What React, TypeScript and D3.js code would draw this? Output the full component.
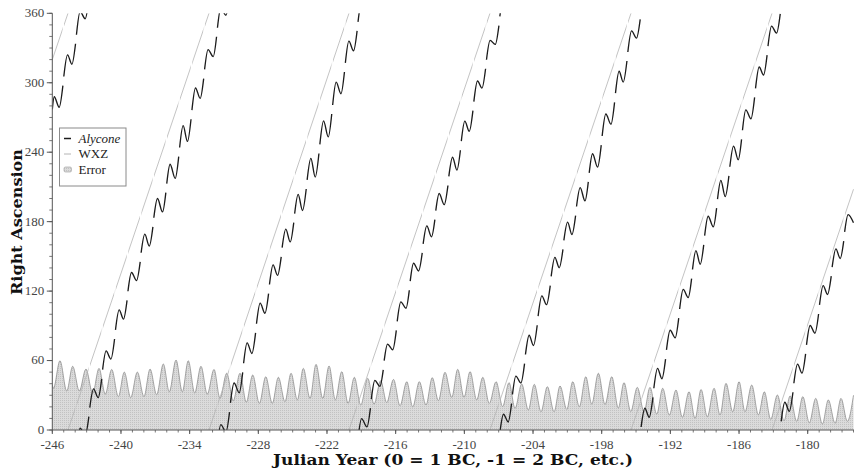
import React from 'react';
import * as d3 from 'd3';

const WIDTH = 854;
const HEIGHT = 468;

const xTickYears = [-246, -240, -234, -228, -222, -216, -210, -204, -198, -192, -186, -180];
const yTickValues = [0, 60, 120, 180, 240, 300, 360];

// Error (peaks / troughs)
const errorYears = [
  -246.0, -245.9, -245.33, -244.74, -244.22, -243.64, -243.06, -242.47, -241.92, -241.37, -240.81, -240.23,
  -239.71, -239.15, -238.57, -237.99, -237.46, -236.88, -236.3, -235.78, -235.19, -234.64, -234.12, -233.56,
  -233.01, -232.46, -231.87, -231.35, -230.76, -230.19, -229.6, -229.05, -228.49, -227.91, -227.35, -226.78,
  -226.25, -225.67, -225.14, -224.59, -224.07, -223.48, -222.96, -222.37, -221.82, -221.27, -220.71, -220.16,
  -219.61, -219.05, -218.44, -217.89, -217.31, -216.78, -216.19, -215.62, -215.03, -214.51, -213.93, -213.35,
  -212.8, -212.27, -211.69, -211.1, -210.58, -210.03, -209.5, -208.92, -208.39, -207.82, -207.23, -206.65,
  -206.1, -205.57, -204.99, -204.41, -203.89, -203.3, -202.75, -202.16, -201.64, -201.05, -200.53, -199.95,
  -199.39, -198.87, -198.29, -197.71, -197.12, -196.55, -196.05, -195.46, -194.89, -194.3, -193.78, -193.19,
  -192.67, -192.09, -191.51, -190.95, -190.37, -189.84, -189.32, -188.77, -188.18, -187.66, -187.14, -186.55,
  -186.0, -185.48, -184.89, -184.31, -183.79, -183.23, -182.65, -182.07, -181.54, -180.96, -180.43, -179.86,
  -179.3, -178.72, -178.2, -177.61, -177.09, -176.54, -176.0,
];
const errorValues = [
  39, 36, 59.8, 33.7, 55, 33.7, 52.6, 31.6, 53.2, 31, 52.3, 28.8,
  50, 28, 50, 28.8, 52.6, 30.5, 57, 33, 60.4, 33, 59.8, 32,
  55, 31, 52.3, 27.4, 49, 25.3, 49, 24, 47.5, 23, 46, 23,
  45.5, 24.5, 49, 26, 53.2, 27.3, 56.7, 27.3, 55.3, 26, 50.4, 23,
  45.5, 21.6, 44.6, 22.4, 42.6, 23.6, 43.7, 21, 41.7, 20, 41.7, 21.6,
  45.2, 25.3, 49.8, 28.2, 52.4, 28.2, 50.4, 26, 45.5, 23, 41.7, 20.2,
  40.9, 18.7, 39.7, 17.3, 39.4, 15.8, 37.4, 15.8, 38, 17.8, 41.7, 20.2,
  46, 22.4, 49, 22, 46, 19, 40.9, 16, 36.8, 15.8, 36.8, 13.8,
  36, 13, 34.5, 11, 33, 10, 35, 11.5, 36, 13, 40.3, 15.8,
  41.7, 15.8, 38.8, 13, 33, 9.2, 30.2, 8, 29.4, 7.5, 28.8, 6.3,
  27.3, 5.2, 26, 5.8, 27.3, 7.5, 30,
];

// WXZ: straight runs, each from wxzYears[i] to wxzYears[i+1]
const wxzYears = [-246, -244.63, -232.31, -220.08, -207.76, -195.44, -183.12, -176];
const wxzStartRA = [320, 0, 0, 0, 0, 0, 0];
const wxzEndRA = [360, 360, 360, 360, 360, 360, 208];

// Alycone: visible pieces (right ascension wraps at 360)
const alyconeYears = [
  [-246.0, -245.83, -245.4, -245.075],
  [-244.995, -244.67, -244.29, -243.97],
  [-243.89, -243.57, -243.13, -242.805],
  [-242.725, -242.4, -241.99, -241.685],
  [-241.605, -241.3, -240.88, -240.56],
  [-240.48, -240.16, -239.78, -239.47],
  [-239.39, -239.08, -238.64, -238.32],
  [-238.24, -237.92, -237.53, -237.21],
  [-237.13, -236.81, -236.37, -236.08],
  [-236.0, -235.71, -235.26, -234.955],
  [-234.875, -234.57, -234.19, -233.88],
  [-233.8, -233.49, -233.08, -232.775],
  [-232.695, -232.39, -231.94, -231.65],
  [-231.57, -231.28, -230.83, -230.515],
  [-230.435, -230.12, -229.67, -229.365],
  [-229.285, -228.98, -228.56, -228.24],
  [-228.16, -227.84, -227.42, -227.105],
  [-227.025, -226.71, -226.32, -226.0],
  [-225.92, -225.6, -225.21, -224.905],
  [-224.825, -224.52, -224.14, -223.815],
  [-223.735, -223.41, -223.03, -222.705],
  [-222.625, -222.3, -221.89, -221.585],
  [-221.505, -221.2, -220.78, -220.475],
  [-220.395, -220.09, -219.68, -219.37],
  [-219.29, -218.98, -218.51, -218.205],
  [-218.125, -217.82, -217.38, -217.085],
  [-217.005, -216.71, -216.26, -215.945],
  [-215.865, -215.55, -215.1, -214.81],
  [-214.73, -214.44, -214.0, -213.68],
  [-213.6, -213.28, -212.87, -212.575],
  [-212.495, -212.2, -211.76, -211.435],
  [-211.355, -211.03, -210.65, -210.345],
  [-210.265, -209.96, -209.57, -209.25],
  [-209.17, -208.85, -208.46, -208.145],
  [-208.065, -207.75, -207.3, -206.98],
  [-206.9, -206.58, -206.17, -205.875],
  [-205.795, -205.5, -205.06, -204.74],
  [-204.66, -204.34, -203.96, -203.635],
  [-203.555, -203.23, -202.82, -202.495],
  [-202.415, -202.09, -201.71, -201.385],
  [-201.305, -200.98, -200.6, -200.28],
  [-200.2, -199.88, -199.46, -199.17],
  [-199.09, -198.8, -198.36, -198.04],
  [-197.96, -197.64, -197.19, -196.875],
  [-196.795, -196.48, -196.12, -195.795],
  [-195.715, -195.39, -194.96, -194.635],
  [-194.555, -194.23, -193.85, -193.525],
  [-193.445, -193.12, -192.74, -192.42],
  [-192.34, -192.02, -191.58, -191.27],
  [-191.19, -190.88, -190.44, -190.145],
  [-190.065, -189.77, -189.39, -189.085],
  [-189.005, -188.7, -188.25, -187.96],
  [-187.88, -187.59, -187.21, -186.885],
  [-186.805, -186.48, -186.07, -185.78],
  [-185.7, -185.41, -184.96, -184.64],
  [-184.56, -184.24, -183.86, -183.55],
  [-183.47, -183.16, -182.72, -182.4],
  [-182.32, -182.0, -181.61, -181.29],
  [-181.21, -180.89, -180.5, -180.185],
  [-180.105, -179.79, -179.37, -179.05],
  [-178.97, -178.65, -178.27, -177.945],
  [-177.865, -177.54, -177.16, -176.855],
  [-176.775, -176.47, -176.0],
];
const alyconeRA = [
  [277, 287.9, 278.8, 297.5],
  [305.4, 324.1, 316.0, 333.7],
  [341.5, 1.5, 355.3, 11.5],
  [19.3, 35.5, 28.0, 44.2],
  [52.1, 68.3, 61.3, 78.6],
  [86.5, 103.8, 95.8, 112.0],
  [119.9, 136.1, 129.1, 145.2],
  [153.1, 169.2, 158.9, 175.5],
  [183.4, 200.0, 188.4, 205.1],
  [212.9, 229.6, 217.4, 236.2],
  [244.1, 262.9, 249.3, 268.5],
  [276.3, 295.5, 286.5, 303.6],
  [311.5, 328.6, 322.6, 339.7],
  [347.5, 4.6, 358.3, 15.5],
  [23.4, 40.6, 32.2, 49.8],
  [57.7, 75.3, 66.1, 83.9],
  [91.8, 109.6, 100.9, 117.8],
  [125.7, 142.6, 133.6, 149.6],
  [157.5, 173.5, 162.5, 179.1],
  [187.0, 203.6, 189.6, 208.2],
  [216.1, 234.7, 218.5, 238.9],
  [246.7, 267.1, 253.2, 273.0],
  [280.8, 300.6, 290.5, 309.3],
  [317.2, 336.0, 327.6, 344.8],
  [352.6, 9.85, 2.7, 18.9],
  [26.7, 42.9, 37.7, 52.0],
  [59.9, 74.2, 69.3, 86.1],
  [93.9, 110.7, 105.2, 120.7],
  [128.6, 144.1, 137.4, 153.0],
  [160.8, 176.4, 166.9, 181.7],
  [189.5, 204.3, 194.7, 211.2],
  [219.1, 235.6, 224.5, 241.7],
  [249.6, 266.8, 258.1, 275.9],
  [283.7, 301.5, 295.4, 312.1],
  [319.9, 336.6, 333.1, 349.4],
  [357.3, 13.6, 6.95, 22.9],
  [30.7, 46.6, 40.6, 57.3],
  [65.2, 81.9, 73.0, 90.5],
  [98.4, 115.9, 108.3, 124.8],
  [132.7, 149.2, 140.2, 156.0],
  [163.8, 179.6, 168.9, 185.2],
  [193.1, 209.4, 197.9, 214.4],
  [222.2, 238.7, 227.1, 246.1],
  [254.0, 273.0, 264.2, 283.1],
  [291.0, 309.9, 300.6, 318.8],
  [326.6, 344.8, 338.6, 354.8],
  [2.6, 18.8, 11.0, 28.2],
  [36.1, 53.3, 44.3, 61.3],
  [69.2, 86.2, 79.7, 96.7],
  [104.5, 121.5, 114.5, 130.8],
  [138.7, 155.0, 143.2, 160.0],
  [167.9, 184.7, 175.5, 191.7],
  [199.5, 215.7, 201.6, 219.5],
  [227.4, 245.3, 233.5, 251.1],
  [259.0, 276.6, 268.8, 287.3],
  [295.1, 313.6, 306.7, 323.9],
  [331.7, 348.9, 342.9, 359.5],
  [7.4, 24.0, 16.1, 32.6],
  [40.4, 56.9, 49.1, 65.8],
  [73.6, 90.3, 83.6, 100.2],
  [108.1, 124.7, 117.1, 132.9],
  [140.7, 156.5, 148.2, 163.2],
  [171.1, 186.1, 179.0],
];

const PLOT_LEFT = 52.3;
const PLOT_RIGHT = 853.5;
const PLOT_TOP = 13.3;
const PLOT_BOTTOM = 430;

const serif = "'Liberation Serif', 'Times New Roman', serif";
const titleFont = "'DejaVu Serif', 'Liberation Serif', serif";

export default function App() {
  const x = d3.scaleLinear().domain([-246, -176]).range([PLOT_LEFT, PLOT_RIGHT]);
  const y = d3.scaleLinear().domain([0, 360]).range([PLOT_BOTTOM, PLOT_TOP]);

  const errPts = errorYears.map((t, i) => [t, errorValues[i]] as [number, number]);
  const area = d3
    .area<[number, number]>()
    .x((d) => x(d[0]))
    .y0(y(0))
    .y1((d) => y(d[1]))
    .curve(d3.curveMonotoneX);
  const errLine = d3
    .line<[number, number]>()
    .x((d) => x(d[0]))
    .y((d) => y(d[1]))
    .curve(d3.curveMonotoneX);

  // Alycone pieces, unwrapped so a piece crossing 360 stays continuous; drawn in copies shifted by a full turn.
  const pieces = alyconeYears.map((ys, si) => {
    const ras = alyconeRA[si];
    const out: [number, number][] = [];
    let prev = ras[0];
    let acc = ras[0];
    ys.forEach((t, i) => {
      if (i === 0) {
        out.push([t, acc]);
        return;
      }
      let dlt = ras[i] - prev;
      dlt -= 360 * Math.round(dlt / 360);
      acc += dlt;
      prev = ras[i];
      out.push([t, acc]);
    });
    return out;
  });
  const alyLines = [-360, 0, 360].map((k) =>
    d3
      .line<[number, number]>()
      .x((d) => x(d[0]))
      .y((d) => y(d[1] + k))
      .curve(d3.curveMonotoneX)
  );

  // gap times (between visible pieces) also break the WXZ line
  const gapYears: number[] = [];
  for (let i = 1; i < alyconeYears.length; i++) {
    const a = alyconeYears[i - 1];
    gapYears.push((a[a.length - 1] + alyconeYears[i][0]) / 2);
  }

  const xMinor = d3.range(-246, -175, 1);
  const yMinor = d3.range(0, 361, 10);

  return (
    <svg
      width={WIDTH}
      height={HEIGHT}
      style={{ position: 'fixed', left: 0, top: 0, background: '#fff' }}
      xmlns="http://www.w3.org/2000/svg"
    >
      <defs>
        <clipPath id="plotClip">
          <rect x={PLOT_LEFT} y={PLOT_TOP} width={WIDTH - PLOT_LEFT} height={PLOT_BOTTOM - PLOT_TOP} />
        </clipPath>
        <pattern id="errFill" width="2" height="2" patternUnits="userSpaceOnUse">
          <rect width="2" height="2" fill="#dbdbdb" />
          <rect width="1" height="1" fill="#c2c2c2" />
        </pattern>
        <mask id="wxzGaps" maskUnits="userSpaceOnUse" x="0" y="0" width={WIDTH} height={HEIGHT}>
          <rect x="0" y="0" width={WIDTH} height={HEIGHT} fill="#fff" />
          {gapYears.map((g, i) => (
            <rect key={i} x={x(g) - 0.7} y={0} width={1.4} height={HEIGHT} fill="#000" />
          ))}
        </mask>
      </defs>

      <g clipPath="url(#plotClip)">
        <path d={area(errPts) || ''} fill="url(#errFill)" stroke="none" />
        <path d={errLine(errPts) || ''} fill="none" stroke="#8e8e8e" strokeWidth={0.8} />

        <g mask="url(#wxzGaps)">
          {wxzStartRA.map((r0, i) => (
            <line
              key={i}
              x1={x(wxzYears[i])}
              y1={y(r0)}
              x2={x(wxzYears[i + 1])}
              y2={y(wxzEndRA[i])}
              stroke="#b4b4b4"
              strokeWidth={0.8}
            />
          ))}
        </g>

        {pieces.map((p, i) =>
          alyLines.map((ln, k) => (
            <path
              key={`${i}-${k}`}
              d={ln(p) || ''}
              fill="none"
              stroke="#1c1c1c"
              strokeWidth={1.35}
              strokeLinecap="butt"
            />
          ))
        )}
      </g>

      {/* Y axis */}
      <line x1={PLOT_LEFT} y1={PLOT_TOP} x2={PLOT_LEFT} y2={PLOT_BOTTOM} stroke="#555" strokeWidth={1} />
      {yMinor.map((v) => (
        <line key={`ym${v}`} x1={PLOT_LEFT - 3} x2={PLOT_LEFT} y1={y(v)} y2={y(v)} stroke="#555" strokeWidth={0.8} />
      ))}
      {yTickValues.map((v) => (
        <g key={`yt${v}`}>
          <line x1={PLOT_LEFT - 5.5} x2={PLOT_LEFT} y1={y(v)} y2={y(v)} stroke="#555" strokeWidth={1} />
          <text
            x={PLOT_LEFT - 8}
            y={y(v)}
            dy="0.3em"
            textAnchor="end"
            fontFamily={serif}
            fontSize={13}
            fill="#444"
          >
            {String(v)}
          </text>
        </g>
      ))}

      {/* X axis */}
      <line x1={PLOT_LEFT} y1={PLOT_BOTTOM} x2={WIDTH} y2={PLOT_BOTTOM} stroke="#555" strokeWidth={1} />
      {xMinor.map((v) => (
        <line key={`xm${v}`} x1={x(v)} x2={x(v)} y1={PLOT_BOTTOM} y2={PLOT_BOTTOM + 2.5} stroke="#555" strokeWidth={0.8} />
      ))}
      {xTickYears.map((v) => (
        <g key={`xt${v}`}>
          <line x1={x(v)} x2={x(v)} y1={PLOT_BOTTOM} y2={PLOT_BOTTOM + 4} stroke="#555" strokeWidth={1} />
          <text
            x={x(v)}
            y={PLOT_BOTTOM + 18.5}
            textAnchor="middle"
            fontFamily={serif}
            fontSize={13}
            fill="#444"
          >
            {String(v)}
          </text>
        </g>
      ))}

      {/* Axis titles */}
      <text
        x={453}
        y={465}
        textAnchor="middle"
        fontFamily={titleFont}
        fontWeight="bold"
        fontSize={14}
        textLength={360}
        lengthAdjust="spacingAndGlyphs"
        fill="#111"
      >
        Julian Year (0 = 1 BC, -1 = 2 BC, etc.)
      </text>
      <text
        transform={`translate(22, 222) rotate(-90)`}
        textAnchor="middle"
        fontFamily={titleFont}
        fontWeight="bold"
        fontSize={15}
        textLength={146}
        lengthAdjust="spacingAndGlyphs"
        fill="#111"
      >
        Right Ascension
      </text>

      {/* Legend */}
      <g>
        <rect x={59.5} y={128} width={66.5} height={58} fill="#fff" stroke="#8a8a8a" strokeWidth={1} />
        <line x1={64} x2={71} y1={138.5} y2={138.5} stroke="#1c1c1c" strokeWidth={1.5} />
        <text x={78.5} y={142.5} fontFamily={serif} fontStyle="italic" fontSize={13} fill="#222">
          Alycone
        </text>
        <line x1={64} x2={71} y1={154} y2={154} stroke="#b4b4b4" strokeWidth={1} />
        <text x={78.5} y={158.2} fontFamily={serif} fontSize={13} fill="#222">
          WXZ
        </text>
        <rect x={64} y={167} width={7.5} height={5} rx={1.5} fill="url(#errFill)" stroke="#9a9a9a" strokeWidth={0.6} />
        <text x={78.5} y={173.7} fontFamily={serif} fontSize={13} fill="#222">
          Error
        </text>
      </g>
    </svg>
  );
}
